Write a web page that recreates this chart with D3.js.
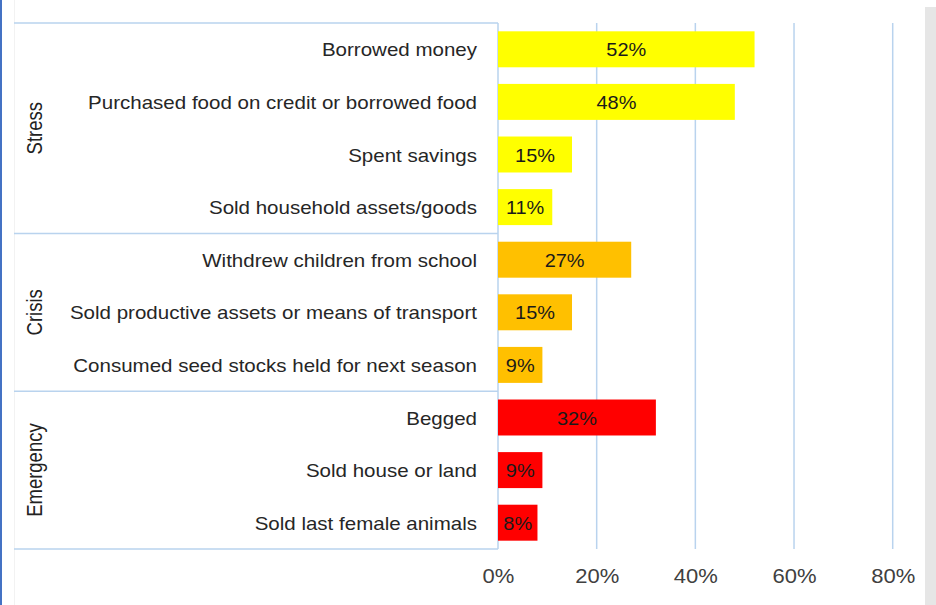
<!DOCTYPE html>
<html>
<head>
<meta charset="utf-8">
<script src="https://cdn.jsdelivr.net/npm/d3@7/dist/d3.min.js"></script>
<style>
  html, body { margin: 0; padding: 0; background: #fff; }
  svg { display: block; font-family: "Liberation Sans", Arial, sans-serif; }
</style>
</head>
<body>
<svg id="chart" width="936" height="605"></svg>
<script>
// ---- data ----
const categories = [
  "Borrowed money",
  "Purchased food on credit or borrowed food",
  "Spent savings",
  "Sold household assets/goods",
  "Withdrew children from school",
  "Sold productive assets or means of transport",
  "Consumed seed stocks held for next season",
  "Begged",
  "Sold house or land",
  "Sold last female animals"
];
const values = [52, 48, 15, 11, 27, 15, 9, 32, 9, 8];
const categoryGroup = ["Stress","Stress","Stress","Stress","Crisis","Crisis","Crisis","Emergency","Emergency","Emergency"];
const groups = ["Stress", "Crisis", "Emergency"];
const groupColors = ["#FFFF00", "#FFC000", "#FF0000"];
const tickValues = [0, 20, 40, 60, 80];
const tickLabels = ["0%", "20%", "40%", "60%", "80%"];

// ---- layout ----
const SX = 1.14; // horizontal text stretch seen in the reference
const svg = d3.select("#chart");
const plotTop = 23, plotBottom = 549, x0 = 498, x80 = 892.7, sepLeft = 14;

// frame decorations
svg.append("rect").attr("x", 0).attr("y", 0).attr("width", 2).attr("height", 605).attr("fill", "#4472C4");
svg.append("rect").attr("x", 925).attr("y", 7).attr("width", 11).attr("height", 598).attr("fill", "#e6e6e6");
svg.append("line").attr("x1", 14.5).attr("x2", 14.5).attr("y1", 0).attr("y2", 605)
  .attr("stroke", "#f2f2f2").attr("stroke-width", 1);

const x = d3.scaleLinear().domain([0, 80]).range([x0, x80]);
const y = d3.scaleBand().domain(categories).range([plotTop, plotBottom]).paddingInner(0.316).paddingOuter(0.158);
const color = d3.scaleOrdinal().domain(groups).range(groupColors);

// gridlines
svg.append("g").selectAll("line").data(tickValues.filter(d => d > 0)).join("line")
  .attr("x1", d => x(d)).attr("x2", d => x(d))
  .attr("y1", plotTop).attr("y2", plotBottom)
  .attr("stroke", "#b9d3ee").attr("stroke-width", 1.5);

// vertical category axis line
svg.append("line").attr("x1", x0).attr("x2", x0).attr("y1", plotTop).attr("y2", plotBottom)
  .attr("stroke", "#b9d3ee").attr("stroke-width", 1.5);

// group separators
const groupInfo = groups.map(g => {
  const cats = categories.filter((c, i) => categoryGroup[i] === g);
  const y1 = y(cats[0]) - y.step() * y.paddingInner() / 2;
  const y2 = y(cats[cats.length - 1]) + y.bandwidth() + y.step() * y.paddingInner() / 2;
  return { g, y1, y2 };
});
const sepYs = [groupInfo[0].y1].concat(groupInfo.map(d => d.y2));
svg.append("g").selectAll("line").data(sepYs).join("line")
  .attr("x1", sepLeft).attr("x2", x0)
  .attr("y1", d => d).attr("y2", d => d)
  .attr("stroke", "#b9d3ee").attr("stroke-width", 1.5);

// bars
svg.append("g").selectAll("rect").data(categories).join("rect")
  .attr("x", x(0))
  .attr("y", d => y(d))
  .attr("width", (d, i) => x(values[i]) - x(0))
  .attr("height", y.bandwidth())
  .attr("fill", (d, i) => color(categoryGroup[i]));

// value labels
svg.append("g").selectAll("text").data(categories).join("text")
  .attr("transform", (d, i) => `translate(${(x(0) + x(values[i])) / 2},${y(d) + y.bandwidth() / 2 + 1}) scale(${SX},1)`)
  .attr("text-anchor", "middle")
  .attr("dominant-baseline", "central")
  .attr("font-size", 17.5)
  .attr("fill", "#1a1a1a")
  .text((d, i) => values[i] + "%");

// category labels
svg.append("g").selectAll("text").data(categories).join("text")
  .attr("transform", d => `translate(477,${y(d) + y.bandwidth() / 2 + 1}) scale(${SX},1)`)
  .attr("text-anchor", "end")
  .attr("dominant-baseline", "central")
  .attr("font-size", 18)
  .attr("fill", "#262626")
  .text(d => d);

// group labels
svg.append("g").selectAll("text").data(groupInfo).join("text")
  .attr("transform", d => `translate(41.5,${(d.y1 + d.y2) / 2}) scale(1.18,1) rotate(-90)`)
  .attr("text-anchor", "middle")
  .attr("font-size", 18.5)
  .attr("fill", "#222")
  .text(d => d.g);

// x axis
const xAxis = d3.axisBottom(x).tickValues(tickValues).tickFormat((d, i) => tickLabels[i]).tickSize(0);
const ax = svg.append("g").attr("transform", `translate(0,${plotBottom})`).call(xAxis);
ax.select(".domain").remove();
ax.selectAll("text")
  .attr("y", 27)
  .attr("dy", null)
  .attr("dominant-baseline", "central")
  .attr("transform", "scale(1.1,1)")
  .attr("font-size", 20)
  .attr("font-family", "\"Liberation Sans\", Arial, sans-serif")
  .attr("fill", "#404040");
</script>
</body>
</html>
